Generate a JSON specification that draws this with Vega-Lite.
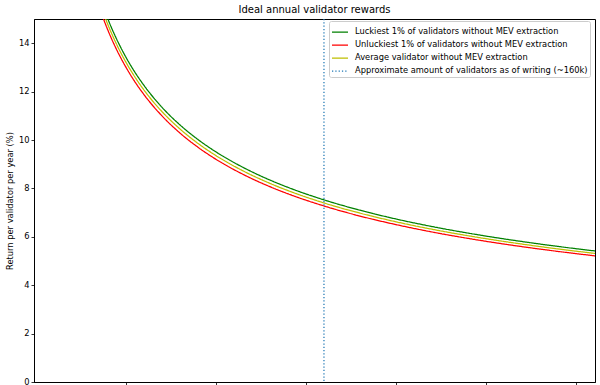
{
  "$schema": "https://vega.github.io/schema/vega-lite/v6.json",
  "width": 561,
  "height": 363,
  "autosize": {"type": "none"},
  "padding": {"left": 34, "top": 19, "right": 5, "bottom": 3},
  "background": "white",
  "config": {
    "font": "DejaVu Sans",
    "view": {"stroke": "black", "strokeWidth": 1},
    "axis": {"grid": false, "domainColor": "black", "tickColor": "black", "labelColor": "black", "titleColor": "black", "tickSize": 3, "domainWidth": 1, "tickWidth": 0.8, "labelFontSize": 8.3, "titleFontSize": 8.3, "titleFontWeight": "normal", "labelPadding": 2},
    "legend": {"title": null, "orient": "none", "legendX": 295, "legendY": 2, "padding": 2, "fillColor": "rgba(255,255,255,0.8)", "strokeColor": "#cccccc", "cornerRadius": 2,
               "labelFontSize": 8.3, "labelColor": "black", "symbolType": "stroke", "symbolSize": 256, "symbolStrokeWidth": 1.25, "rowPadding": 0, "labelOffset": 6, "labelLimit": 400}
  },
  "title": {"text": "Ideal annual validator rewards", "fontSize": 10, "fontWeight": "normal", "color": "black", "offset": 3, "anchor": "middle"},
  "datasets": {
    "curves": [
      {"N": 30000, "series": "lucky", "value": 17.353}, {"N": 30000, "series": "unlucky", "value": 16.827}, {"N": 30000, "series": "avg", "value": 17.090},
      {"N": 33000, "series": "lucky", "value": 16.545}, {"N": 33000, "series": "unlucky", "value": 16.043}, {"N": 33000, "series": "avg", "value": 16.294},
      {"N": 36000, "series": "lucky", "value": 15.842}, {"N": 36000, "series": "unlucky", "value": 15.360}, {"N": 36000, "series": "avg", "value": 15.601},
      {"N": 40000, "series": "lucky", "value": 15.030}, {"N": 40000, "series": "unlucky", "value": 14.570}, {"N": 40000, "series": "avg", "value": 14.800},
      {"N": 45000, "series": "lucky", "value": 14.172}, {"N": 45000, "series": "unlucky", "value": 13.736}, {"N": 45000, "series": "avg", "value": 13.954},
      {"N": 50000, "series": "lucky", "value": 13.445}, {"N": 50000, "series": "unlucky", "value": 13.031}, {"N": 50000, "series": "avg", "value": 13.238},
      {"N": 55000, "series": "lucky", "value": 12.819}, {"N": 55000, "series": "unlucky", "value": 12.423}, {"N": 55000, "series": "avg", "value": 12.621},
      {"N": 60000, "series": "lucky", "value": 12.275}, {"N": 60000, "series": "unlucky", "value": 11.893}, {"N": 60000, "series": "avg", "value": 12.084},
      {"N": 70000, "series": "lucky", "value": 11.366}, {"N": 70000, "series": "unlucky", "value": 11.010}, {"N": 70000, "series": "avg", "value": 11.188},
      {"N": 80000, "series": "lucky", "value": 10.633}, {"N": 80000, "series": "unlucky", "value": 10.297}, {"N": 80000, "series": "avg", "value": 10.465},
      {"N": 90000, "series": "lucky", "value": 10.027}, {"N": 90000, "series": "unlucky", "value": 9.707}, {"N": 90000, "series": "avg", "value": 9.867},
      {"N": 100000, "series": "lucky", "value": 9.513}, {"N": 100000, "series": "unlucky", "value": 9.207}, {"N": 100000, "series": "avg", "value": 9.360},
      {"N": 115000, "series": "lucky", "value": 8.873}, {"N": 115000, "series": "unlucky", "value": 8.585}, {"N": 115000, "series": "avg", "value": 8.729},
      {"N": 130000, "series": "lucky", "value": 8.346}, {"N": 130000, "series": "unlucky", "value": 8.072}, {"N": 130000, "series": "avg", "value": 8.209},
      {"N": 145000, "series": "lucky", "value": 7.904}, {"N": 145000, "series": "unlucky", "value": 7.642}, {"N": 145000, "series": "avg", "value": 7.773},
      {"N": 160000, "series": "lucky", "value": 7.526}, {"N": 160000, "series": "unlucky", "value": 7.274}, {"N": 160000, "series": "avg", "value": 7.400},
      {"N": 180000, "series": "lucky", "value": 7.098}, {"N": 180000, "series": "unlucky", "value": 6.856}, {"N": 180000, "series": "avg", "value": 6.977},
      {"N": 200000, "series": "lucky", "value": 6.735}, {"N": 200000, "series": "unlucky", "value": 6.503}, {"N": 200000, "series": "avg", "value": 6.619},
      {"N": 225000, "series": "lucky", "value": 6.352}, {"N": 225000, "series": "unlucky", "value": 6.128}, {"N": 225000, "series": "avg", "value": 6.240},
      {"N": 250000, "series": "lucky", "value": 6.028}, {"N": 250000, "series": "unlucky", "value": 5.812}, {"N": 250000, "series": "avg", "value": 5.920},
      {"N": 275000, "series": "lucky", "value": 5.750}, {"N": 275000, "series": "unlucky", "value": 5.540}, {"N": 275000, "series": "avg", "value": 5.645},
      {"N": 300000, "series": "lucky", "value": 5.506}, {"N": 300000, "series": "unlucky", "value": 5.302}, {"N": 300000, "series": "avg", "value": 5.404},
      {"N": 311000, "series": "lucky", "value": 5.409}, {"N": 311000, "series": "unlucky", "value": 5.207}, {"N": 311000, "series": "avg", "value": 5.308}
    ],
    "marker": [{"N": 160000, "series": "now"}]
  },
  "layer": [
    {
      "data": {"name": "curves"},
      "mark": {"type": "line", "clip": true, "strokeWidth": 1.25, "interpolate": "monotone"},
      "encoding": {
        "x": {"field": "N", "type": "quantitative", "scale": {"domain": [-800, 310300], "nice": false, "zero": false},
              "axis": {"values": [50000, 100000, 150000, 200000, 250000, 300000], "labels": false, "title": null}},
        "y": {"field": "value", "type": "quantitative", "scale": {"domain": [0, 15], "nice": false},
              "axis": {"values": [0, 2, 4, 6, 8, 10, 12, 14], "title": "Return per validator per year (%)", "titlePadding": 4}},
        "color": {"field": "series", "type": "nominal",
                  "scale": {"domain": ["lucky", "unlucky", "avg", "now"], "range": ["#008000", "#ff0000", "#bfbf00", "#1f77b4"]},
                  "legend": {"labelExpr": "datum.value == 'lucky' ? 'Luckiest 1% of validators without MEV extraction' : datum.value == 'unlucky' ? 'Unluckiest 1% of validators without MEV extraction' : datum.value == 'avg' ? 'Average validator without MEV extraction' : 'Approximate amount of validators as of writing (~160k)'"}},
        "strokeDash": {"field": "series", "type": "nominal",
                       "scale": {"domain": ["lucky", "unlucky", "avg", "now"], "range": [[1, 0], [1, 0], [1, 0], [1.25, 2.06]]},
                       "legend": {"labelExpr": "datum.value == 'lucky' ? 'Luckiest 1% of validators without MEV extraction' : datum.value == 'unlucky' ? 'Unluckiest 1% of validators without MEV extraction' : datum.value == 'avg' ? 'Average validator without MEV extraction' : 'Approximate amount of validators as of writing (~160k)'"}}
      }
    },
    {
      "data": {"name": "marker"},
      "mark": {"type": "rule", "strokeWidth": 1.25},
      "encoding": {
        "x": {"field": "N", "type": "quantitative"},
        "color": {"field": "series", "type": "nominal"},
        "strokeDash": {"field": "series", "type": "nominal"}
      }
    }
  ]
}
